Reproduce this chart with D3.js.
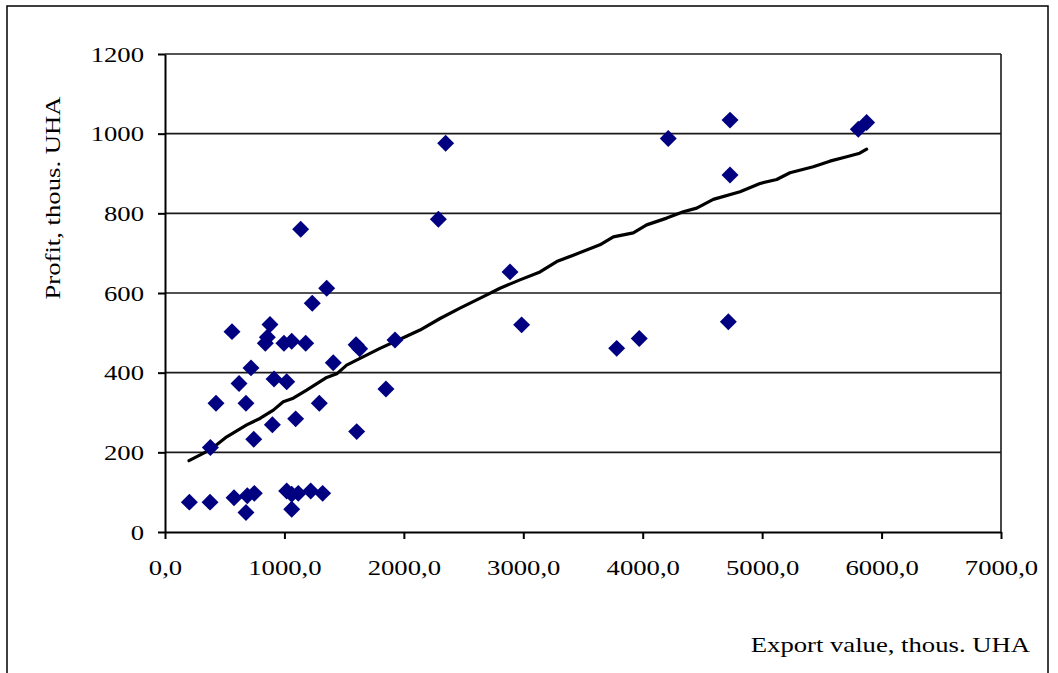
<!DOCTYPE html>
<html>
<head>
<meta charset="utf-8">
<script src="https://cdn.jsdelivr.net/npm/d3@7"></script>
<style>
  body { margin: 0; background: #fff; }
  text { font-family: "Liberation Serif", "Times New Roman", serif; font-size: 21px; fill: #000; }
</style>
</head>
<body>
<div id="chart"></div>
<script>
// export value (thous. UHA) and profit (thous. UHA) for each firm
var exportValue = [1233, 561, 879, 857, 840, 996, 1061, 1178, 1600, 1630,
  720, 1409, 620, 913, 1019, 427, 678, 1292, 1094, 899,
  743, 1605, 380, 204, 377, 578, 678, 689, 748, 1019,
  1061, 1061, 1116, 1220, 1320, 1136, 2289, 1354, 1926, 2350,
  2889, 2986, 1850, 3782, 3971, 4717, 4214, 4731, 4731, 5805, 5875];
var profit = [574, 503, 521, 489, 474, 474, 479, 474, 470, 460,
  412, 425, 373, 384, 377, 323, 323, 323, 284, 269,
  233, 252, 212, 75, 75, 86, 49, 91, 97, 103,
  57, 95, 97, 103, 97, 760, 785, 612, 482, 976,
  653, 520, 359, 461, 486, 528, 988, 1034, 896, 1011, 1028];

// trend line
var trendExport = [201, 377, 517, 684, 795, 907, 990, 1074, 1186, 1354,
  1438, 1521, 1633, 1800, 1968, 2135, 2303, 2470, 2665, 2805,
  2972, 3140, 3280, 3419, 3642, 3754, 3921, 4033, 4201, 4340,
  4452, 4591, 4815, 4982, 5122, 5233, 5428, 5567, 5708, 5817, 5875];
var trendProfit = [179, 206, 239, 269, 285, 306, 327, 336, 356, 388,
  397, 419, 436, 461, 484, 507, 536, 562, 591, 612,
  633, 653, 679, 695, 721, 741, 751, 771, 788, 804,
  813, 835, 854, 875, 885, 902, 917, 931, 942, 951, 961];

var xTicks = [0, 1000, 2000, 3000, 4000, 5000, 6000, 7000];
var yTicks = [0, 200, 400, 600, 800, 1000, 1200];

var svgWidth = 1058;
var svgHeight = 673;
var stretch = 1.27; // the original font is set wide

var svg = d3.select("#chart")
  .append("svg")
  .attr("width", svgWidth)
  .attr("height", svgHeight);

// outer chart frame
svg.append("rect")
  .attr("x", 7)
  .attr("y", 6)
  .attr("width", 1041)
  .attr("height", 720)
  .attr("fill", "none")
  .attr("stroke", "#000")
  .attr("stroke-width", 1.5);

var x = d3.scaleLinear().domain([0, 7000]).range([165, 1001]);
var y = d3.scaleLinear().domain([0, 1200]).range([532, 54]);

// horizontal gridlines
svg.append("g")
  .selectAll("line")
  .data(yTicks.filter(d => d > 0))
  .enter()
  .append("line")
  .attr("x1", x(0))
  .attr("x2", x(7000))
  .attr("y1", d => y(d))
  .attr("y2", d => y(d))
  .attr("stroke", "#1a1a1a")
  .attr("stroke-width", 1.6);

// right edge of the plot area
svg.append("line")
  .attr("x1", x(7000))
  .attr("x2", x(7000))
  .attr("y1", y(1200))
  .attr("y2", y(0))
  .attr("stroke", "#1a1a1a")
  .attr("stroke-width", 1.6);

var fmt = d => d3.format(".1f")(d).replace(".", ",");

var xAxis = svg.append("g")
  .attr("transform", `translate(0, ${y(0)})`)
  .call(d3.axisBottom(x).tickValues(xTicks).tickSize(7).tickSizeOuter(0).tickFormat(fmt));

xAxis.selectAll("text")
  .attr("y", 43)
  .attr("dy", 0)
  .attr("transform", `scale(${stretch},1)`);

var yAxis = svg.append("g")
  .attr("transform", `translate(${x(0)}, 0)`)
  .call(d3.axisLeft(y).tickValues(yTicks).tickSize(7).tickSizeOuter(0).tickFormat(d3.format("d")));

yAxis.selectAll("text")
  .attr("x", -21 / stretch)
  .attr("y", 7)
  .attr("dy", 0)
  .attr("transform", `scale(${stretch},1)`);

svg.selectAll(".domain, .tick line")
  .attr("stroke", "#000")
  .attr("stroke-width", 2);
svg.selectAll(".tick text")
  .attr("font-family", null)
  .attr("font-size", null);

// trend line
var line = d3.line()
  .x((d, i) => x(trendExport[i]))
  .y(d => y(d));

svg.append("path")
  .datum(trendProfit)
  .attr("d", line)
  .attr("fill", "none")
  .attr("stroke", "#000")
  .attr("stroke-width", 3.2)
  .attr("stroke-linejoin", "round")
  .attr("stroke-linecap", "round");

// diamond markers
var diamond = d3.symbol().type(d3.symbolSquare).size(144);

svg.append("g")
  .selectAll("path")
  .data(profit)
  .enter()
  .append("path")
  .attr("d", diamond)
  .attr("transform", (d, i) => `translate(${x(exportValue[i])}, ${y(d)}) rotate(45)`)
  .attr("fill", "#000080");

// axis titles
svg.append("text")
  .attr("transform", `translate(1030, 652) scale(${stretch},1)`)
  .attr("text-anchor", "end")
  .text("Export value, thous. UHA");

svg.append("text")
  .attr("transform", `translate(60, 198) rotate(-90) scale(${stretch},1)`)
  .attr("text-anchor", "middle")
  .text("Profit, thous. UHA");
</script>
</body>
</html>
